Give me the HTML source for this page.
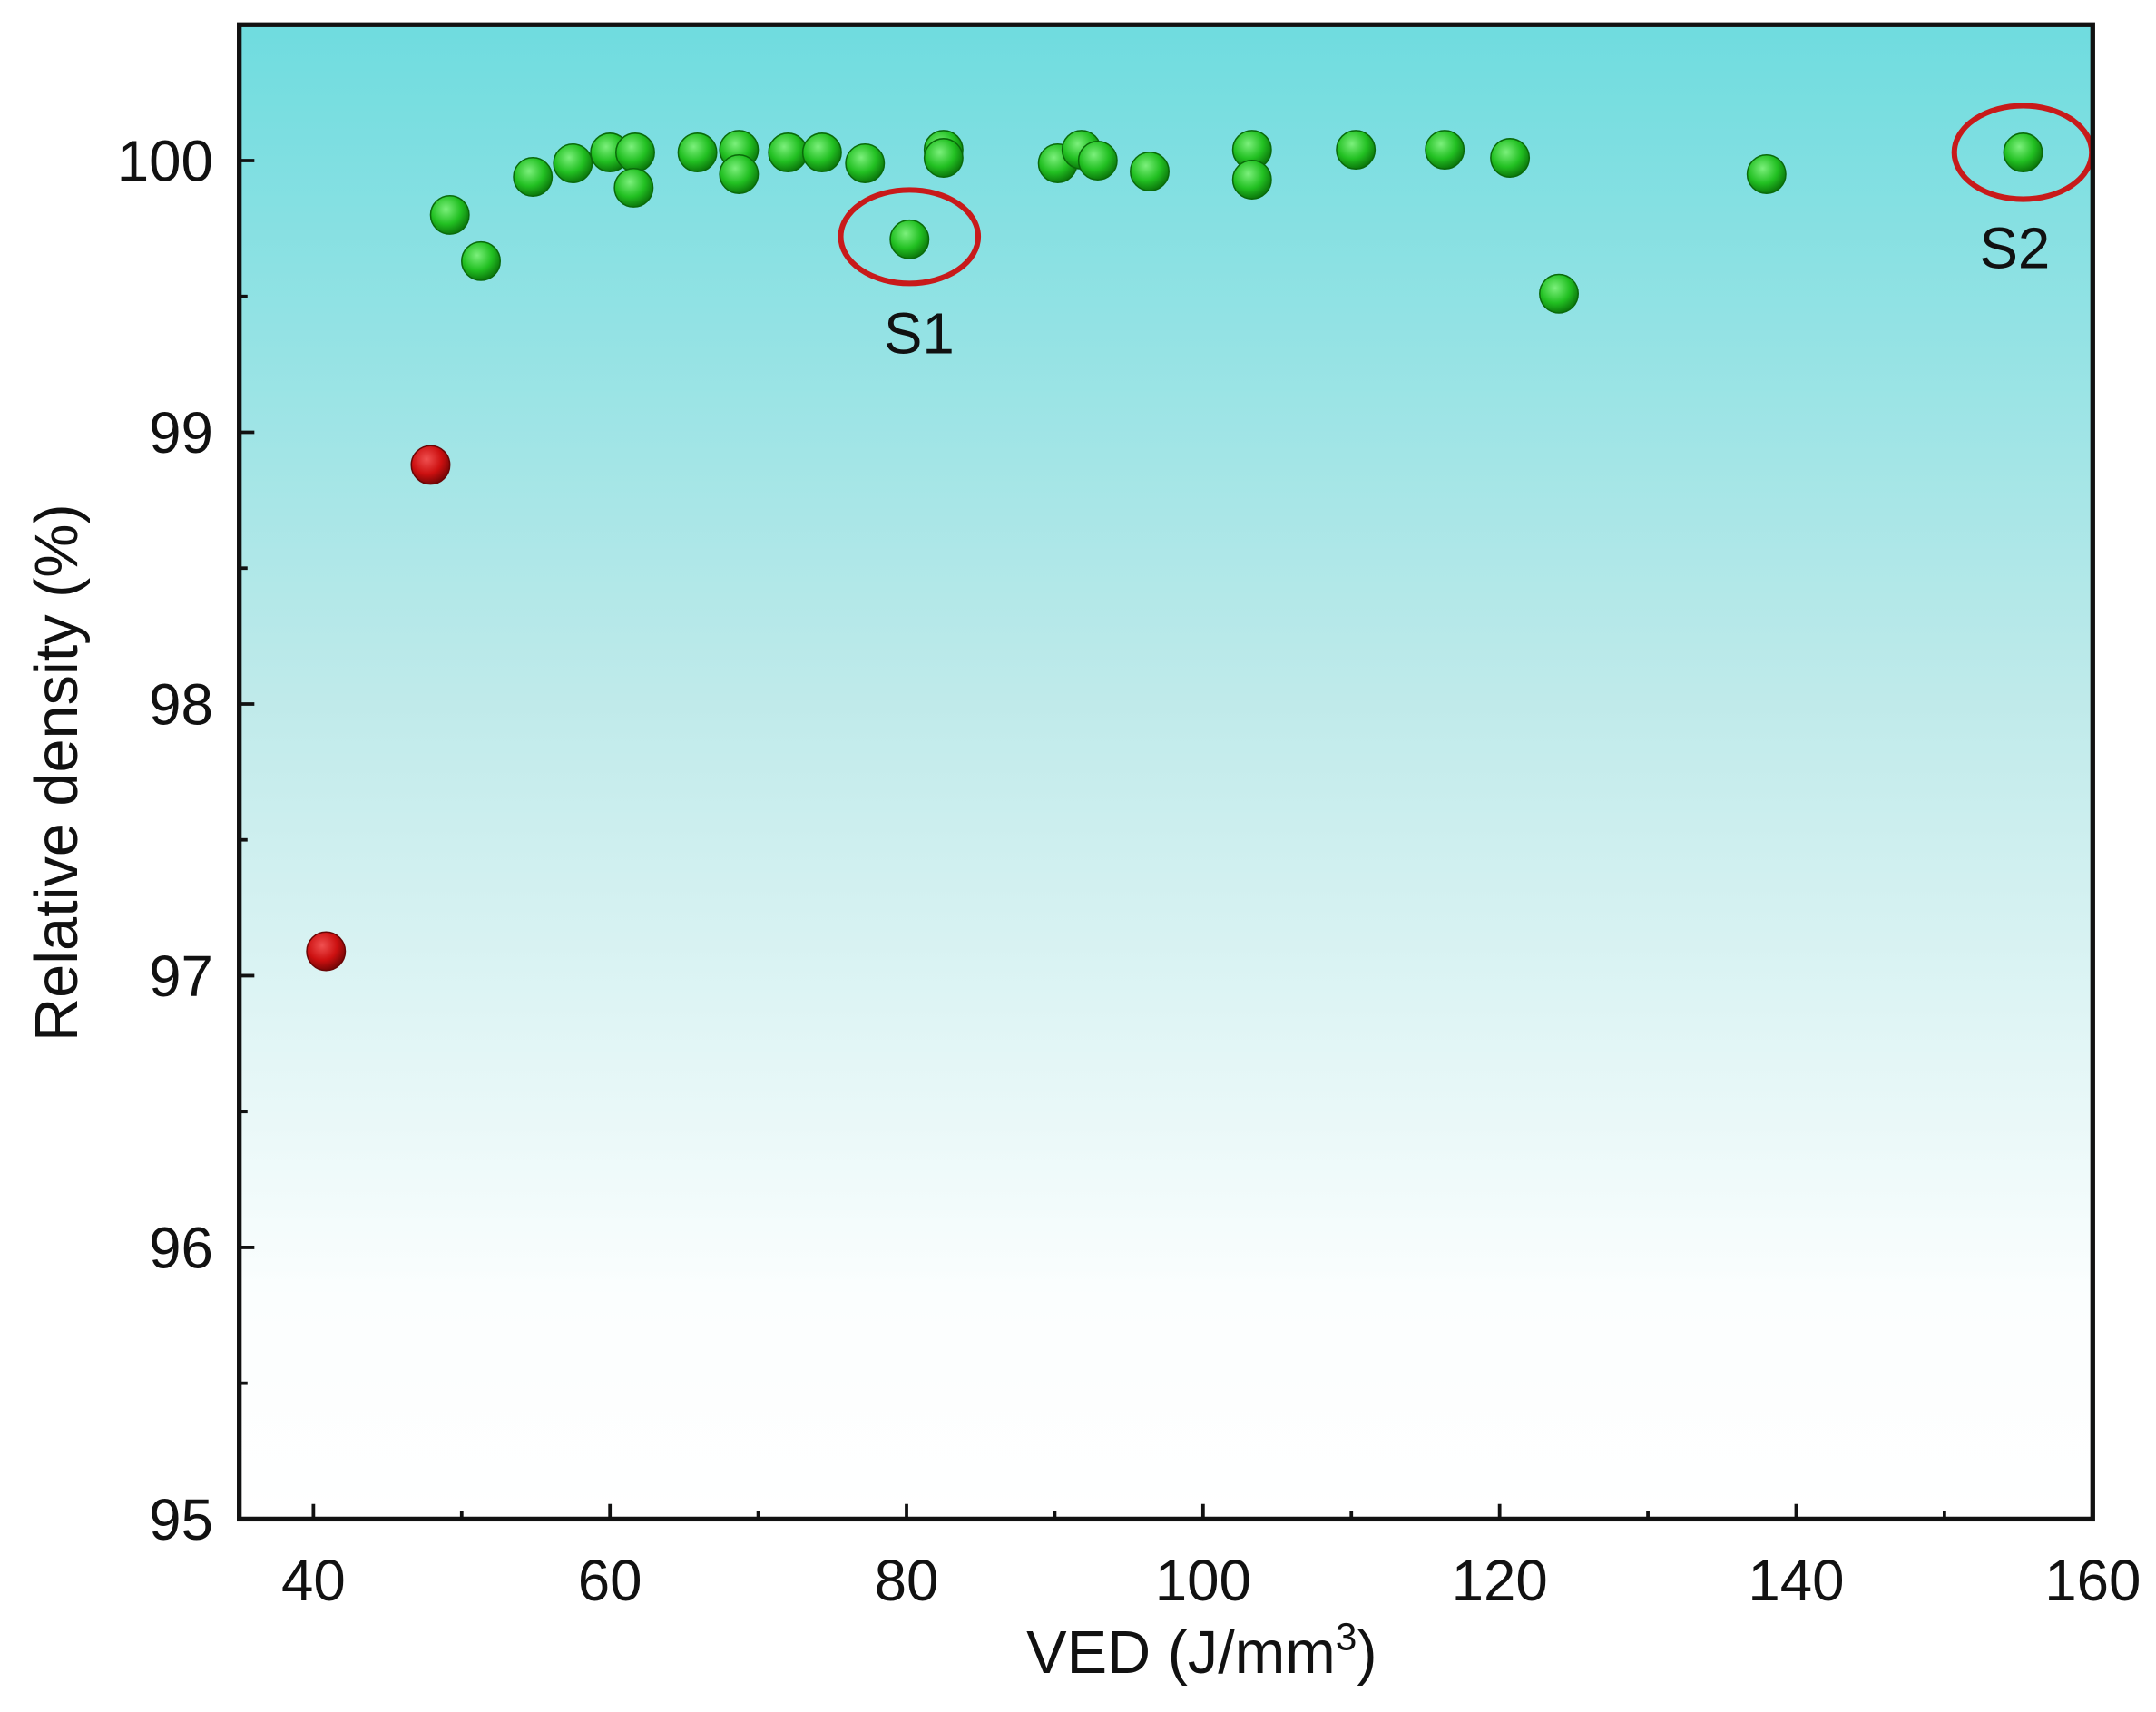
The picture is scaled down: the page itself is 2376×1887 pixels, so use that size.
<!DOCTYPE html>
<html><head><meta charset="utf-8"><style>
html,body{margin:0;padding:0;background:#fff;}
svg{display:block;font-family:"Liberation Sans",Arial,sans-serif;}
</style></head><body>
<svg id="chart" width="2376" height="1887" viewBox="0 0 1568 1245.3" preserveAspectRatio="none" xmlns="http://www.w3.org/2000/svg">
<defs>
<linearGradient id="bg" x1="0" y1="0" x2="0" y2="1">
<stop offset="0" stop-color="#6fdcdf"/>
<stop offset="0.45" stop-color="#bfeaea"/>
<stop offset="0.85" stop-color="#fbfefe"/>
<stop offset="1" stop-color="#ffffff"/>
</linearGradient>
<radialGradient id="gG" cx="0.4" cy="0.35" r="0.65">
<stop offset="0" stop-color="#7cf07c"/><stop offset="0.6" stop-color="#22c022"/><stop offset="1" stop-color="#0c7a0c"/>
</radialGradient>
<radialGradient id="gR" cx="0.4" cy="0.35" r="0.65">
<stop offset="0" stop-color="#f05050"/><stop offset="0.6" stop-color="#cc1010"/><stop offset="1" stop-color="#7a0606"/>
</radialGradient>
</defs>
<rect x="174" y="18" width="1348" height="1087" fill="url(#bg)"/>
<g id="ticks"></g>
<g id="marks"></g>
<rect x="174" y="18" width="1348" height="1087" fill="none" stroke="#111" stroke-width="3.5"/>
<text x="874" y="1217" font-size="44" text-anchor="middle" fill="#111">VED (J/mm<tspan font-size="28" dy="-17">3</tspan><tspan dy="17">)</tspan></text>
<text transform="translate(56,562) rotate(-90)" font-size="44" text-anchor="middle" fill="#111">Relative density (%)</text>
</svg>
<script>
const xTicks=[40,60,80,100,120,140,160];
const yTicks=[95,96,97,98,99,100];
const redX=[40.85,47.9];
const redY=[97.09,98.88];
const greenX=[49.2,51.3,54.8,57.5,60.0,61.7,61.6,65.9,68.7,68.7,72.0,74.3,77.2,80.2,82.5,82.5,90.2,91.8,92.9,96.4,103.3,103.3,110.3,116.3,120.7,124.0,138.0,155.3];
const greenY=[99.80,99.63,99.94,99.99,100.03,100.03,99.90,100.03,100.04,99.95,100.03,100.03,99.99,99.71,100.04,100.01,99.99,100.04,100.00,99.96,100.04,99.93,100.04,100.04,100.01,99.51,99.95,100.03];
const highlightX=[80.2,155.3];
const highlightY=[99.72,100.03];
const highlightLabels=["S1","S2"];
const L=174,R=1522,T=18,B=1105,x0=35,x1=160,y0=95,y1=100.5;
const sx=v=>L+(v-x0)/(x1-x0)*(R-L);
const sy=v=>B-(v-y0)/(y1-y0)*(B-T);
const NS="http://www.w3.org/2000/svg";
function mk(tag,attrs,parent){const e=document.createElementNS(NS,tag);for(const k in attrs)e.setAttribute(k,attrs[k]);parent.appendChild(e);return e;}
const tg=document.getElementById('ticks'),mg=document.getElementById('marks');
for(let v=40;v<=160;v+=10){const major=v%20===0;
const t=mk('line',{x1:sx(v),x2:sx(v),y1:B,y2:B-(major?11:6),stroke:'#111','stroke-width':2.5},tg);

}
xTicks.forEach(v=>{const t=mk('text',{x:sx(v),y:1164,'font-size':42,'text-anchor':'middle',fill:'#111'},tg);t.textContent=v;

});
for(let v=95;v<=100.5;v+=0.5){const major=Math.abs(v-Math.round(v))<1e-6;
const t=mk('line',{x1:L,x2:L+(major?11:6),y1:sy(v),y2:sy(v),stroke:'#111','stroke-width':2.5},tg);

}
yTicks.forEach(v=>{const t=mk('text',{x:155,y:sy(v)+15,'font-size':42,'text-anchor':'end',fill:'#111'},tg);t.textContent=v;

});
greenX.forEach((v,i)=>{const c=mk('circle',{cx:sx(v),cy:sy(greenY[i]),r:14,fill:'url(#gG)',stroke:'#0a6a0a','stroke-width':1},mg);

});
redX.forEach((v,i)=>{const c=mk('circle',{cx:sx(v),cy:sy(redY[i]),r:14,fill:'url(#gR)',stroke:'#6a0505','stroke-width':1},mg);

});
highlightX.forEach((v,i)=>{const cx=sx(v),cy=sy(highlightY[i]);
const e=mk('ellipse',{cx:cx,cy:cy,rx:50,ry:34,fill:'none',stroke:'#c81a1a','stroke-width':4},mg);


const t=mk('text',{x:cx+(i===0?7:-6),y:cy+(i===0?85:84),'font-size':42,'text-anchor':'middle',fill:'#111'},mg);t.textContent=highlightLabels[i];

});
</script>
</body></html>
